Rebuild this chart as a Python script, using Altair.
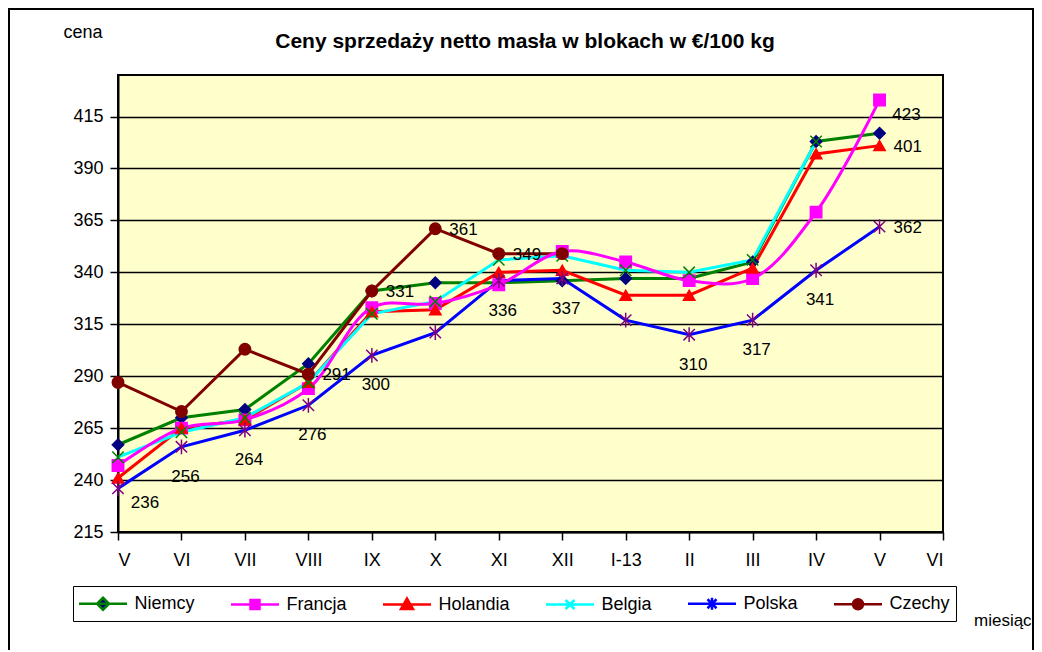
import altair as alt
import pandas as pd

MONTHS = ["V", "VI", "VII", "VIII", "IX", "X", "XI", "XII", "I-13", "II", "III", "IV", "V", "VI"]
SERIES = ["Niemcy", "Francja", "Holandia", "Belgia", "Polska", "Czechy"]

NIEMCY = [257, 270, 274, 296, 331, 335, 335, 336, 337, 337, 345, 403, 407]
FRANCJA = [247, 265, 269, 284, 323, 325, 334, 350, 345, 336, 337, 369, 423]
HOLANDIA = [241, 265, 269, 287, 321, 322, 340, 341, 329, 329, 342, 397, 401]
BELGIA = [251, 263, 270, 287, 320, 326, 346, 348, 341, 340, 346, 403]
POLSKA = [236, 256, 264, 276, 300, 311, 336, 337, 317, 310, 317, 341, 362]
CZECHY = [287, 273, 303, 291, 331, 361, 349, 349]

Y_TICKS = [215, 240, 265, 290, 315, 340, 365, 390, 415]
Y_DOMAIN = [215, 435]

LINE_COLORS = ["#008000", "#FF00FF", "#FF0000", "#00FFFF", "#0000FF", "#800000"]
MARKER_COLORS = ["#000080", "#FF00FF", "#FF0000", "#008000", "#800080", "#800000"]
MARKER_SHAPES = [
    "diamond",
    "square",
    "triangle-up",
    "M-1,-1L1,1M-1,1L1,-1",
    "M-1,-1L1,1M-1,1L1,-1M0,-1.3L0,1.3",
    "circle",
]
LEGEND_SYMBOLS = [
    "M-2.4,0L2.4,0M0,-0.6L0.6,0L0,0.6L-0.6,0Z",
    "M-2.4,0L2.4,0M-0.45,-0.45L0.45,-0.45L0.45,0.45L-0.45,0.45Z",
    "M-2.4,0L2.4,0M0,-0.6L0.6,0.45L-0.6,0.45Z",
    "M-2.4,0L2.4,0M-0.45,-0.45L0.45,0.45M-0.45,0.45L0.45,-0.45",
    "M-2.4,0L2.4,0M-0.45,-0.45L0.45,0.45M-0.45,0.45L0.45,-0.45M0,-0.6L0,0.6",
    "M-2.4,0L2.4,0M0.5,0A0.5,0.5,0,1,1,-0.5,0A0.5,0.5,0,1,1,0.5,0Z",
]

LABELS_BELOW = [("Polska", i) for i in [1, 2, 3, 4, 6, 7, 9, 10, 11]]
LABELS_RIGHT = [("Czechy", 3), ("Czechy", 4), ("Czechy", 5), ("Czechy", 6),
                ("Holandia", 12), ("Polska", 12)]
LABELS_DIAG = [("Polska", 0), ("Francja", 12)]

FONT = "Liberation Sans"

values = dict(zip(SERIES, [NIEMCY, FRANCJA, HOLANDIA, BELGIA, POLSKA, CZECHY]))
rows = []
for s in SERIES:
    for i, v in enumerate(values[s]):
        rows.append({"series": s, "idx": i, "value": v})
df = pd.DataFrame(rows)


def label_df(pairs):
    return pd.DataFrame([{"series": s, "idx": i, "value": values[s][i]} for s, i in pairs])


label_expr = "[" + ",".join("'" + m + "'" for m in MONTHS) + "][datum.value]"

x_enc = alt.X(
    "idx:Q",
    scale=alt.Scale(domain=[0, len(MONTHS) - 1], nice=False, zero=False),
    axis=alt.Axis(values=list(range(len(MONTHS))), labelExpr=label_expr, title=None,
                  grid=False, tickSize=8, tickWidth=1.5, tickColor="black",
                  domainColor="black", domainWidth=2, labelPadding=11,
                  labelFont=FONT, labelFontSize=18, labelColor="black"),
)
y_enc = alt.Y(
    "value:Q",
    scale=alt.Scale(domain=Y_DOMAIN, nice=False, zero=False),
    axis=alt.Axis(values=Y_TICKS, title=None, grid=True, gridColor="black",
                  gridWidth=1.5, gridOpacity=1, tickSize=8, tickWidth=1.5,
                  tickColor="black", domainColor="black", domainWidth=2,
                  labelPadding=7, labelFont=FONT, labelFontSize=18,
                  labelColor="black"),
)

color_lines = alt.Color("series:N", scale=alt.Scale(domain=SERIES, range=LINE_COLORS), legend=None)

lines = alt.Chart(df).transform_filter("datum.series != 'Francja'").mark_line(
    strokeWidth=3
).encode(x=x_enc, y=y_enc, color=color_lines)

line_fr = alt.Chart(df).transform_filter("datum.series == 'Francja'").mark_line(
    strokeWidth=3, interpolate="catmull-rom"
).encode(x=x_enc, y=y_enc, color=color_lines)

points = alt.Chart(df).mark_point(filled=True, opacity=1, size=130, strokeWidth=1.5).encode(
    x=x_enc,
    y=y_enc,
    shape=alt.Shape("series:N", scale=alt.Scale(domain=SERIES, range=MARKER_SHAPES), legend=None),
    fill=alt.Fill("series:N", scale=alt.Scale(domain=SERIES, range=MARKER_COLORS), legend=None),
    stroke=alt.Stroke("series:N", scale=alt.Scale(domain=SERIES, range=MARKER_COLORS), legend=None),
)

legend = alt.Legend(
    orient="none", legendX=-45, legendY=511, direction="horizontal", columns=6,
    title=None, labelFont=FONT, labelFontSize=18, labelColor="black",
    symbolSize=400, symbolStrokeWidth=2.5, symbolOffset=12.5, labelOffset=20,
    columnPadding=31, padding=6, strokeColor="black", fillColor="white",
    labelLimit=0,
)
legend_layer = alt.Chart(df).transform_filter("datum.value < 0").mark_point(
    filled=True, opacity=1, size=400, strokeWidth=2.5
).encode(
    x=x_enc,
    y=y_enc,
    shape=alt.Shape("series:N", scale=alt.Scale(domain=SERIES, range=LEGEND_SYMBOLS), legend=legend),
    fill=alt.Fill("series:N", scale=alt.Scale(domain=SERIES, range=MARKER_COLORS), legend=legend),
    stroke=alt.Stroke("series:N", scale=alt.Scale(domain=SERIES, range=LINE_COLORS), legend=legend),
)

txt_kw = dict(font=FONT, fontSize=17, color="black")
lab_below = alt.Chart(label_df(LABELS_BELOW)).mark_text(dx=4, dy=30, align="center", baseline="middle", **txt_kw).encode(
    x=x_enc, y=y_enc, text=alt.Text("value:Q", format="d"))
lab_right = alt.Chart(label_df(LABELS_RIGHT)).mark_text(dx=14, dy=1, align="left", baseline="middle", **txt_kw).encode(
    x=x_enc, y=y_enc, text=alt.Text("value:Q", format="d"))
lab_diag = alt.Chart(label_df(LABELS_DIAG)).mark_text(dx=27, dy=15, align="center", baseline="middle", **txt_kw).encode(
    x=x_enc, y=y_enc, text=alt.Text("value:Q", format="d"))

one = pd.DataFrame({"k": [0]})
frame = alt.Chart(one).mark_rect(fill="white", fillOpacity=0, stroke="black", strokeWidth=2).encode(
    x=alt.value(-109), x2=alt.value(915), y=alt.value(-66), y2=alt.value(600))
title = alt.Chart(one).mark_text(text="Ceny sprzedaży netto masła w blokach w €/100 kg", font=FONT,
                                 fontSize=21, fontWeight="bold", color="black",
                                 align="center", baseline="alphabetic").encode(
    x=alt.value(407), y=alt.value(-27))
cena = alt.Chart(one).mark_text(text="cena", font=FONT, fontSize=18, color="black",
                                align="center", baseline="alphabetic").encode(
    x=alt.value(-35), y=alt.value(-37))
miesiac = alt.Chart(one).mark_text(text="miesiąc", font=FONT, fontSize=17, color="black",
                                   align="left", baseline="alphabetic").encode(
    x=alt.value(856), y=alt.value(551))

chart = alt.layer(
    frame, lines, line_fr, points, legend_layer, lab_below, lab_right, lab_diag, title, cena, miesiac
).resolve_scale(
    shape="independent", fill="independent", stroke="independent"
).properties(
    width=825, height=457,
    autosize=alt.AutoSizeParams(type="none"),
    padding={"left": 110, "top": 67, "right": 91, "bottom": 118},
    background="white",
).configure_view(
    fill="#FFFFCC", stroke="black", strokeWidth=2
)

chart.save("out.html", embed_options={"renderer": "svg", "actions": False})
